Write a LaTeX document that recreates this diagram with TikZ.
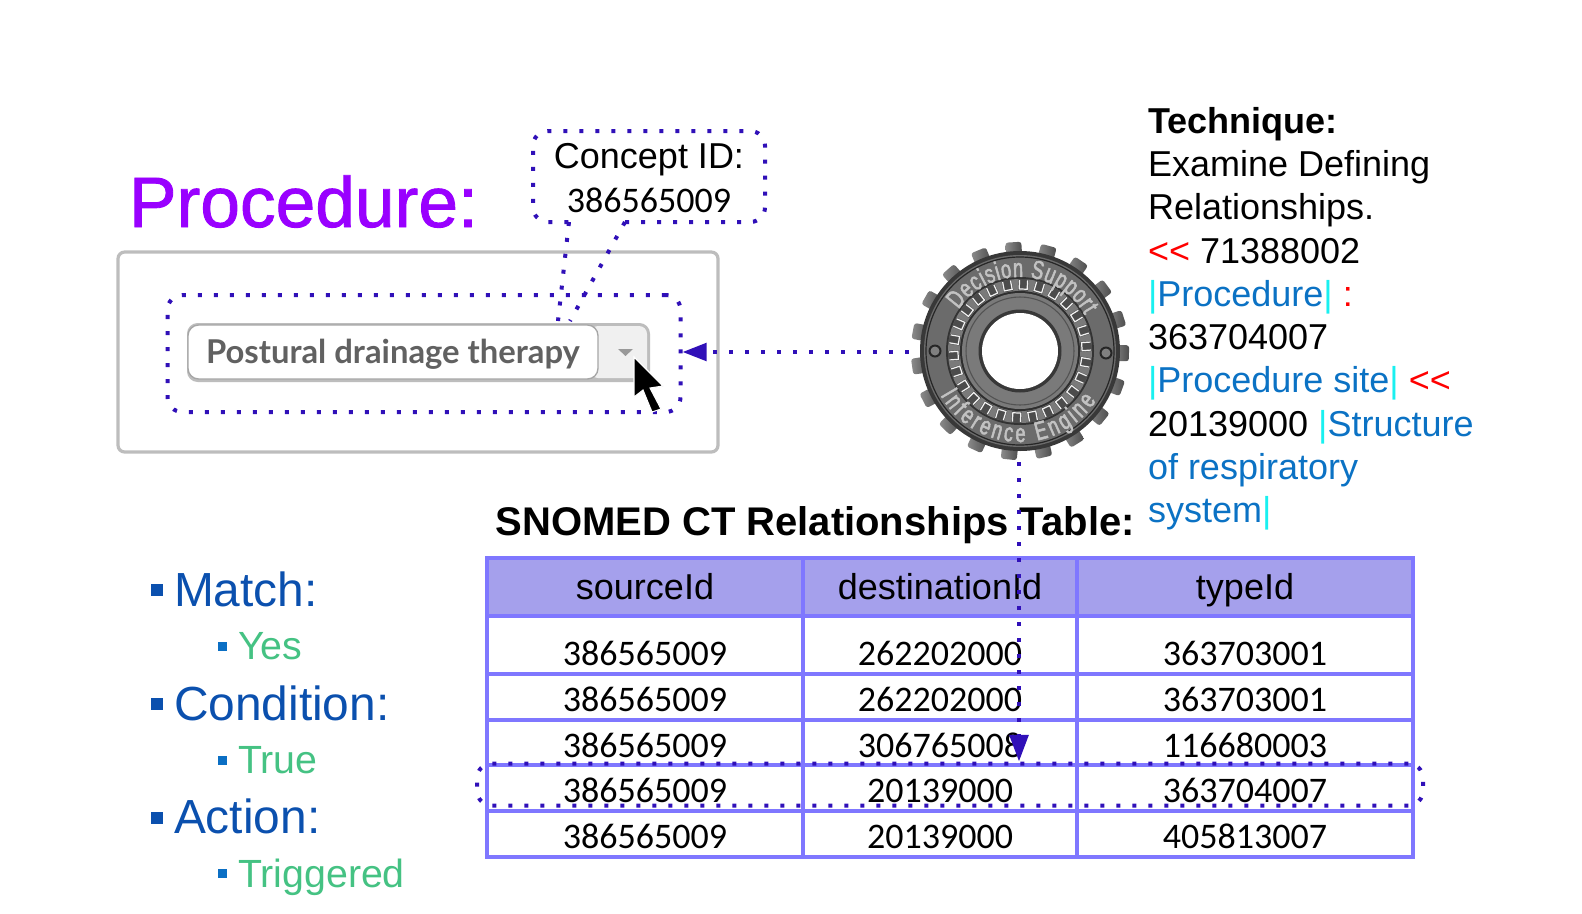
\documentclass[tikz,border=0pt]{standalone}
\usepackage{fontspec}
\setmainfont{Liberation Sans}
\newfontfamily\carlito{Carlito}
\newfontfamily\lato{Lato}
\newfontfamily\procfam[FakeBold=1.2]{Liberation Sans}
\newfontfamily\gearfam[FakeStretch=0.7,FakeBold=2]{Liberation Sans}
\usetikzlibrary{arrows.meta,decorations.text}
\definecolor{dotc}{HTML}{3010B8}
\definecolor{tbl}{HTML}{7F77FF}
\definecolor{hdr}{HTML}{A5A0EC}
\definecolor{mainb}{HTML}{0B50AE}
\definecolor{subb}{HTML}{0B6FC4}
\definecolor{grn}{HTML}{45C283}
\definecolor{lnk}{HTML}{0B72C4}
\definecolor{pipe}{HTML}{19F0F0}
\definecolor{grayb}{HTML}{BDBDBD}
\newcommand{\pp}{\textcolor{pipe}{|}}
\newcommand{\lk}[1]{\textcolor{lnk}{#1}}
\newcommand{\rd}[1]{\textcolor{red}{#1}}
\tikzset{
  txt/.style={anchor=base west,inner sep=0pt,outer sep=0pt},
  ctr/.style={anchor=base,inner sep=0pt,outer sep=0pt},
  tech/.style={txt,font=\fontsize{27}{27}\selectfont},
  mainitem/.style={txt,text=mainb,font=\fontsize{35.9}{36}\selectfont},
  subitem/.style={txt,text=grn,font=\fontsize{29.5}{29}\selectfont},
  mainsq/.style={fill=mainb},
  subsq/.style={fill=subb},
  dotline/.style={draw=dotc,line width=3pt,dash pattern=on 3pt off 9pt},
  dotbox/.style={dotline,rectangle,rounded corners=11pt,inner sep=0pt},
  arrowdot/.style={dotline},
  grid/.style={draw=tbl,line width=3pt},
  rowtxt/.style={ctr,font=\carlito\fontsize{27}{27}\selectfont},
  hdrtxt/.style={ctr,font=\fontsize{27}{27}\selectfont},
}
\begin{document}
\begin{tikzpicture}[x=.75pt,y=-.75pt]
\useasboundingbox (0,0) rectangle (1582,914);
% title and form
\node[txt,text={rgb,255:red,153;green,0;blue,255},font=\procfam\fontsize{53.5}{53.5}\selectfont] (proc) at (129,227) {Procedure:};
\draw[grayb,line width=2.4pt,rounded corners=5pt,fill=white] (118,252) rectangle (718,452);
\fill[grayb,rounded corners=8pt] (187,323) rectangle (650,382);
\fill[black!6,rounded corners=6pt] (590,326) rectangle (647,378);
\draw[draw=black!35,fill=white,line width=1pt,rounded corners=8pt] (188,325) rectangle (598,379);
\node[txt,text=black!62,font=\lato\bfseries\fontsize{24.6}{25}\selectfont] (combo) at (206,363) {Postural drainage therapy};
\fill[black!40] (618,349) -- (633,349) -- (625.5,356) -- cycle;
% selection box
\node[dotbox,minimum width=384.75pt,minimum height=87.75pt] (sel) at (424,353.5) {};
% cursor
\fill[black,draw=white,line width=.8pt] (634,357) -- (663,386) -- (650,388) -- (661,409) -- (652,412) -- (643,390) -- (634,397) -- cycle;
% callout
\draw[dotline,rounded corners=11pt] (625,222) -- (765,222) -- (765,131) -- (533,131) -- (533,222) -- (569,222);
\draw[dotline] (569,222) -- (558,321);
\draw[dotline] (625,222) -- (570,321);
\node[ctr,font=\fontsize{27}{27}\selectfont] (cid) at (649,168) {Concept ID:};
\node[ctr,font=\carlito\fontsize{27}{27}\selectfont] (cnum) at (649,212) {386565009};
% technique
\node[tech,font=\bfseries\fontsize{27}{27}\selectfont] (t1) at (1148,133) {Technique:};
\node[tech] (t2) at (1148,176) {Examine Defining};
\node[tech] (t3) at (1148,219) {Relationships.};
\node[tech] (t4) at (1148,263) {\rd{<{}<} 71388002};
\node[tech] (t5) at (1148,306) {\pp\lk{Procedure}\pp\ \rd{:}};
\node[tech] (t6) at (1148,349) {363704007};
\node[tech] (t7) at (1148,392) {\pp\lk{Procedure site}\pp\ \rd{<{}<}};
\node[tech] (t8) at (1148,436) {20139000 \pp\lk{Structure}};
\node[tech] (t9) at (1148,479) {\lk{of respiratory}};
\node[tech] (t10) at (1148,522) {\lk{system}\pp};
% list
\fill[mainsq] (151,584) rectangle (163,596);
\node[mainitem] (m1) at (174,606) {Match:};
\fill[subsq] (218,642) rectangle (227,651);
\node[subitem] (s1) at (238,659.5) {Yes};
\fill[mainsq] (151,698) rectangle (163,710);
\node[mainitem] (m2) at (174,720) {Condition:};
\fill[subsq] (218,756) rectangle (227,765);
\node[subitem] (s2) at (238,773.5) {True};
\fill[mainsq] (151,812) rectangle (163,824);
\node[mainitem] (m3) at (174,833) {Action:};
\fill[subsq] (218,869) rectangle (227,878);
\node[subitem] (s3) at (238,887.5) {Triggered};
% table
\node[txt,font=\bfseries\fontsize{30}{30}\selectfont] (ttl) at (495.5,535) {SNOMED CT Relationships Table:};
\fill[hdr] (487,558) rectangle (1413,615.5);
\draw[grid] (487,558) rectangle (1413,857);
\foreach \yy in {615.5,674,719.5,765,811} \draw[grid] (487,\yy) -- (1413,\yy);
\foreach \xx in {803,1077} \draw[grid] (\xx,558) -- (\xx,857);
\node[hdrtxt] (h1) at (645,599) {sourceId};
\node[hdrtxt] (h2) at (940,599) {destinationId};
\node[hdrtxt] (h3) at (1245,599) {typeId};
\foreach \r/\yy/\aa/\bb/\cc in {1/665/386565009/262202000/363703001,2/711/386565009/262202000/363703001,3/757/386565009/306765008/116680003,4/802/386565009/20139000/363704007,5/848/386565009/20139000/405813007}{
  \node[rowtxt] (a\r) at (645,\yy) {\aa};
  \node[rowtxt] (b\r) at (940,\yy) {\bb};
  \node[rowtxt] (c\r) at (1245,\yy) {\cc};
}
\node[dotbox,minimum width=709.5pt,minimum height=31.5pt] (row) at (950,784.5) {};
% gear
\node[circle,minimum size=165pt,inner sep=0pt] (gear) at (1019,352) {};
\begin{scope}[shift={(1020,351)},x=.75pt,y=.75pt]
  \foreach \k in {0,...,18}{
    \pgfmathsetmacro\ang{-1.2+18.947*\k}
    \begin{scope}[rotate=\ang]
      \shade[left color=black!45,right color=black!70,rounded corners=2pt] (92,-8) rectangle (109,8);
    \end{scope}
  }
  \fill[black!78] (0,0) circle (100);
  \fill[black!58] (0,0) circle (96);
  \draw[black!85,line width=.9pt] (0,0) circle (94);
  \fill[black!80] (0,0) circle (74);
  \fill[black!52] (0,0) circle (72);
  \foreach \k in {0,...,25}{
    \begin{scope}[rotate=\k*13.846+4]
      \fill[black!70] (60.5,-5) rectangle (72,5);
      \draw[black!5,line width=.9pt] (71,-4) -- (62,-4) -- (62,4) -- (71,4);
    \end{scope}
  }
  \fill[black!82] (0,0) circle (60);
  \fill[black!52] (0,0) circle (58);
  \draw[black!68,line width=.8pt] (0,0) circle (54);
  \fill[black!78] (0,0) circle (41.5);
  \fill[white] (0,0) circle (38);
  \foreach \bx/\by in {-85/0,86/-2}{
    \fill[black!85] (\bx,\by) circle (6.5);
    \fill[black!50] (\bx,\by) circle (4.5);
  }
  \path[decorate,decoration={text along path,text align={fit to path},
    text={|\gearfam\fontsize{19.5}{19.5}\selectfont\color{black!24}|Decision Support}}]
    (146:74) arc (146:29:74);
  \path[decorate,decoration={text along path,text align={fit to path},
    text={|\gearfam\fontsize{19.5}{19.5}\selectfont\color{black!24}|Inference Engine}}]
    (209:91) arc (209:327:91);
\end{scope}
% connectors
\draw[arrowdot,-{Triangle[length=18pt,width=13pt,fill=dotc]}] (gear.west) -- (gear.west -| sel.east);
\draw[arrowdot,-{Triangle[length=20pt,width=14pt,fill=dotc]}] (gear.south) -- (gear.south |- row.north);
\end{tikzpicture}
\end{document}
